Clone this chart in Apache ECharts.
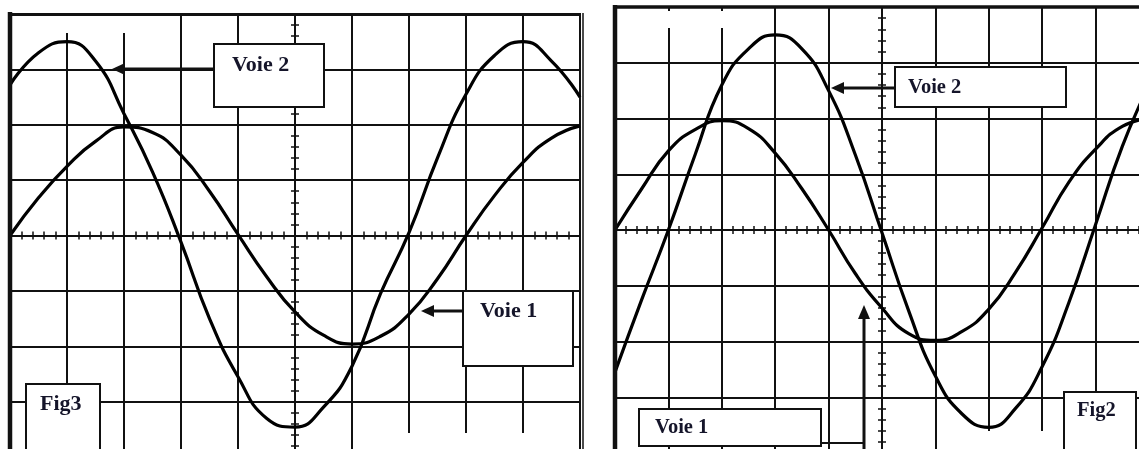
<!DOCTYPE html>
<html>
<head>
<meta charset="utf-8">
<script src="https://cdn.jsdelivr.net/npm/echarts@6/dist/echarts.min.js"></script>
<style>
html,body{margin:0;padding:0;background:#fff;}
#chart{width:1139px;height:449px;}
</style>
</head>
<body>
<div id="chart"></div>
<script>
// horizontal position in divisions from the screen centre
const xDivs = [-5,-4.5,-4,-3.5,-3,-2.5,-2,-1.5,-1,-0.5,0,0.5,1,1.5,2,2.5,3,3.5,4,4.5,5];
// Fig3 (left screen), values in divisions
const fig3Voie1 = [0,0.68,1.25,1.7,1.96,1.86,1.45,0.8,0.02,-0.74,-1.38,-1.8,-1.96,-1.82,-1.42,-0.78,0,0.72,1.32,1.76,1.98];
const fig3Voie2 = [2.72,3.3,3.5,3.15,2.2,1.15,-0.12,-1.5,-2.55,-3.3,-3.46,-3.1,-2.36,-1.05,0.05,1.4,2.55,3.25,3.5,3.15,2.5];
// Fig2 (right screen)
const fig2Voie1 = [0,0.74,1.42,1.8,1.96,1.82,1.38,0.74,0,-0.78,-1.4,-1.86,-1.98,-1.82,-1.42,-0.76,0.04,0.86,1.45,1.86,2.0];
const fig2Voie2 = [-2.55,-1.25,0,1.35,2.6,3.25,3.5,3.25,2.5,1.35,-0.05,-1.45,-2.62,-3.3,-3.54,-3.2,-2.45,-1.3,0.1,1.5,2.6];
// screen graticule
const xRange = [-5, 5];
const yRange = [-4, 4];
const labels = {fig3: 'Fig3', fig2: 'Fig2', voie1: 'Voie 1', voie2: 'Voie 2'};

const INK = '#111';
const FONT_L = 'bold 22px "Liberation Serif", "DejaVu Serif", serif';
const FONT_R = 'bold 20.5px "Liberation Serif", "DejaVu Serif", serif';
const TXT = '#15152a';

function pairs(ys){ return xDivs.map((x,i)=>[x, ys[i]]); }

function centerAxes(gridIndex, kind){
  const base = {
    gridIndex, type:'value', min: kind==='x'?xRange[0]:yRange[0], max: kind==='x'?xRange[1]:yRange[1], interval:1,
    axisLabel:{show:false},
    axisLine:{show:true, onZero:true, lineStyle:{color:INK, width:2}},
    axisTick:{show:true, length:4, lineStyle:{color:INK, width:1.5}},
    minorTick:{show:true, splitNumber:5, length:4, lineStyle:{color:INK, width:1.5}},
  };
  return [
    Object.assign({}, base, {position: kind==='x'?'bottom':'left', splitLine:{show:true, lineStyle:{color:INK, width:2}}}),
    Object.assign({}, base, {position: kind==='x'?'top':'right', splitLine:{show:false}})
  ];
}

function lineSeries(data, xi, yi){
  return {type:'line', xAxisIndex:xi, yAxisIndex:yi, data:pairs(data), smooth:0.5, showSymbol:false,
    lineStyle:{color:'#000', width:3.2}, z:3, animation:false};
}

function box(x,y,w,h){ return {type:'rect', z:10, shape:{x,y,width:w,height:h}, style:{fill:'#fff', stroke:INK, lineWidth:2}}; }
function label(text,x,y,font){ return {type:'text', z:11, x, y, style:{text, font, fill:TXT, align:'left', verticalAlign:'middle'}}; }
function seg(x1,y1,x2,y2,w){ return {type:'line', z:10, shape:{x1,y1,x2,y2}, style:{stroke:INK, lineWidth:w}}; }
function head(pts){ return {type:'polygon', z:10, shape:{points:pts}, style:{fill:INK}}; }
function cover(x,y,w,h){ return {type:'rect', z:1, shape:{x,y,width:w,height:h}, style:{fill:'#fff'}}; }

const chart = echarts.init(document.getElementById('chart'), null, {renderer:'canvas'});
chart.setOption({
  animation:false,
  backgroundColor:'#fff',
  grid:[
    {left:10, top:14, width:570, height:443, show:true, borderColor:INK, borderWidth:2, outerBoundsMode:'none', containLabel:false},
    {left:615, top:7, width:534, height:446, show:true, borderColor:INK, borderWidth:2, outerBoundsMode:'none', containLabel:false}
  ],
  xAxis:[...centerAxes(0,'x'), ...centerAxes(1,'x')],
  yAxis:[...centerAxes(0,'y'), ...centerAxes(1,'y')],
  series:[
    lineSeries(fig3Voie1,0,0),
    lineSeries(fig3Voie2,0,0),
    lineSeries(fig2Voie1,2,2),
    lineSeries(fig2Voie2,2,2)
  ],
  graphic:[
    // left screen frame details
    cover(12,16,166,17),
    cover(398,433,177,16),
    seg(10,12,10,449,4.5),
    seg(8,14.5,580,14.5,3),
    seg(583,13,583,449,1.5),
    // right screen frame details
    cover(619,11,153,17),
    cover(984,431,79,18),
    seg(615,5,615,449,4.5),
    seg(613,7,1139,7,3.5),
    // Fig3 annotations
    box(214,44,110,63), label(labels.voie2,232,65,FONT_L),
    seg(122,69,214,69,3), head([[112,69],[125,63],[125,75]]),
    box(463,291,110,75), label(labels.voie1,480,311,FONT_L),
    seg(432,311,463,311,3), head([[421,311],[434,305],[434,317]]),
    box(26,384,74,70), label(labels.fig3,40,404,FONT_L),
    // Fig2 annotations
    box(895,67,171,40), label(labels.voie2,908,88,FONT_R),
    seg(842,88,895,88,3), head([[831,88],[844,82],[844,94]]),
    box(639,409,182,37), label(labels.voie1,655,428,FONT_R),
    seg(821,443,865,443,2), seg(864,318,864,449,3), head([[864,305],[858,319],[870,319]]),
    box(1064,392,72,62), label(labels.fig2,1077,411,FONT_R)
  ]
});
</script>
</body>
</html>
